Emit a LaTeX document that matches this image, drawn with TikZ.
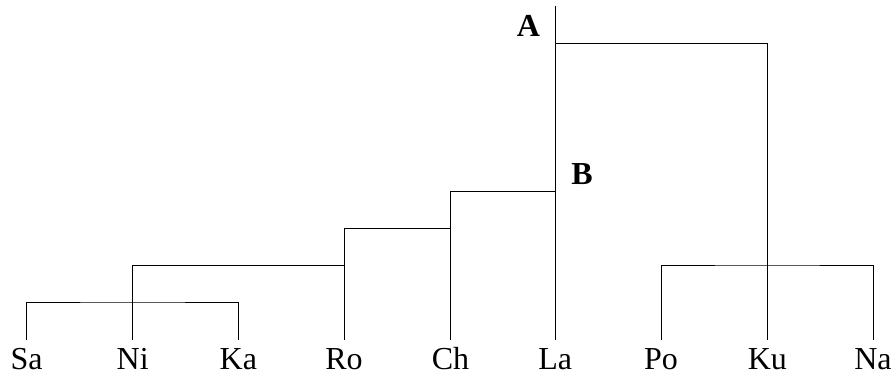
\documentclass[tikz,border=0pt]{standalone}
\usepackage{fontspec}
\setmainfont{Liberation Serif}
\begin{document}
\begin{tikzpicture}[x=1pt,y=-1pt,
  leaf/.style={anchor=base, inner sep=0pt, text depth=0pt, font=\fontsize{32}{36}\selectfont},
  mark label/.style={anchor=base, inner sep=0pt, font=\bfseries\fontsize{32}{36}\selectfont},
  branch/.style={line width=1pt, line cap=rect}]
\useasboundingbox (0,0) rectangle (893,374);
\foreach \n/\x in {Sa/26.5, Ni/132.7, Ka/238.3, Ro/344, Ch/450.5, La/555.3, Po/661, Ku/767.3, Na/873}{
  \coordinate (t\n) at (\x,339);
  \node[leaf] (\n) at (\x,369) {\n};
}
\coordinate (u1) at (132.7,302);
\coordinate (u2) at (344,265);
\coordinate (u3) at (450.5,228);
\coordinate (u4) at (555.3,191.7);
\coordinate (u5) at (767.3,265);
\coordinate (u6) at (555.3,43.3);
\coordinate (root) at (555.3,7);
\draw[branch] (tSa) |- (u1) -| (tKa);
\draw[branch] (tNi) -- (tNi |- u2) -- (u2) -- (tRo);
\draw[branch] (u2) |- (u3) -- (tCh);
\draw[branch] (u3) |- (u4);
\draw[branch] (tLa) -- (root);
\draw[branch] (tPo) |- (u5) -| (tNa);
\draw[branch] (tKu) |- (u6);
\node[mark label] (A) at (528.3,36.7) {A};
\node[mark label] (B) at (582,184) {B};
\end{tikzpicture}
\end{document}
